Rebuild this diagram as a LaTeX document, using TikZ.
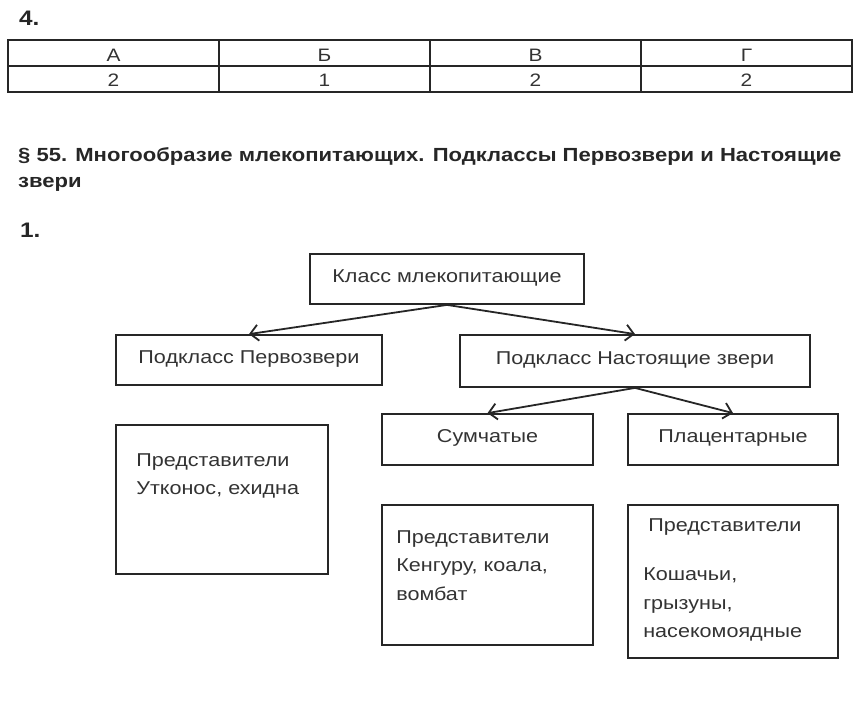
\documentclass[tikz,border=0pt]{standalone}
\usepackage{fontspec}
\setmainfont{Liberation Sans}[FakeStretch=1.16]
\usetikzlibrary{arrows.meta,calc}
\definecolor{ink}{HTML}{262626}
\definecolor{inktext}{HTML}{333333}
\tikzstyle{box}=[draw=ink, line width=1.8pt, inner sep=0pt, text=inktext, font=\fontsize{18.6}{28.5}\selectfont, text height=13pt, text depth=7pt]
\tikzstyle{note}=[anchor=north west, align=left, inner sep=0pt, text=inktext, font=\fontsize{18.6}{28.5}\selectfont]
\tikzstyle{edge}=[draw=ink, line width=1.8pt, ->]
\tikzstyle{cell}=[anchor=base, inner sep=0pt, text=inktext, font=\fontsize{18}{20}\selectfont]
\tikzstyle{title}=[anchor=base west, inner sep=0pt, text=ink, font=\bfseries\fontsize{19}{26}\selectfont]
\tikzstyle{bignum}=[anchor=base west, inner sep=0pt, text=ink, font=\bfseries\fontsize{21}{26}\selectfont]

\begin{document}
\begin{tikzpicture}[x=1pt, y=-1pt, >={Straight Barb[length=8pt,width=16pt]}]
    \useasboundingbox (0,0) rectangle (864,714);

    % task 4: answer table
    \node[bignum] (num4) at (19,26) {4.};
    \draw[ink, line width=1.2pt] (8,40) rectangle (852,92);
    \draw[ink, line width=1.2pt] (8,66) -- (852,66);
    \foreach \x in {219,430,641}
        \draw[ink, line width=1.2pt] (\x,40) -- (\x,92);
    \foreach \x/\a/\b [count=\i] in {113.5/А/2, 324.5/Б/1, 535.5/В/2, 746.5/Г/2}{
        \node[cell] (head\i) at (\x,62) {\a};
        \node[cell] (ans\i) at (\x,87) {\b};
    }

    % paragraph 55
    \node[title] (par55) at (18,162) {§ 55. Многообразие млекопитающих. Подклассы Первозвери и Настоящие};
    \node[title] (par55b) at (18,188) {звери};
    \node[bignum] (num1) at (20,237) {1.};

    % scheme
    \foreach \name/\pos/\w/\h/\txt in {
        {klass/(447,279)/274/50/Класс млекопитающие},
        {pervo/(249,360)/266/50/Подкласс Первозвери},
        {nast/(635,361)/350/52/Подкласс Настоящие звери},
        {sum/(487.5,439.5)/211/51/Сумчатые},
        {plac/(733,439.5)/210/51/Плацентарные},
        {rep1/(222,499.5)/212/149/},
        {rep2/(487.5,575)/211/140/},
        {rep3/(733,581.5)/210/153/}}
        \node[box, minimum width=\w, minimum height=\h] (\name) at \pos {\txt};

    \foreach \source/\dest in {klass/pervo, klass/nast, nast/sum, nast/plac}
        \path[edge] (\source.south) -- (\dest.north);

    \node[note] (rep1txt) at ($(rep1.north west)+(21,29)$) {Представители\\Утконос, ехидна};
    \node[note] (rep2txt) at ($(rep2.north west)+(15,26)$) {Представители\\Кенгуру, коала,\\вомбат};
    \node[note] (rep3txt) at ($(rep3.north west)+(16,14)$) {\hspace*{5pt}Представители\\[21pt]Кошачьи,\\грызуны,\\насекомоядные};

\end{tikzpicture}
\end{document}
